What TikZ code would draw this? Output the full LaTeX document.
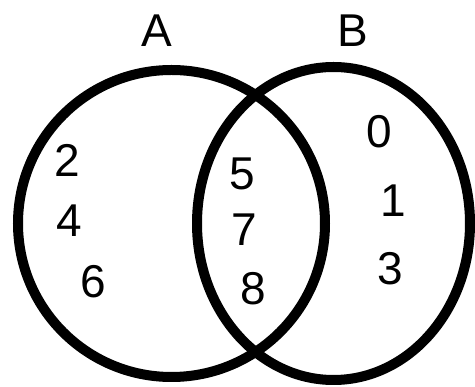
\documentclass[tikz,border=0pt]{standalone}
\usepackage{fontspec}
\setmainfont{Liberation Sans}
\begin{document}
\begin{tikzpicture}[x=1pt,y=-1pt,
  ring/.style={draw=black,line width=10pt},
  lbl/.style={inner sep=0pt,anchor=base,font=\fontsize{46}{46}\selectfont}]
\useasboundingbox (0,0) rectangle (475,387);
\draw[ring] (171.5,223.5) circle [radius=153.5];
\draw[ring] (333.5,223.5) ellipse [x radius=136.5,y radius=156.5];
\node[lbl] (A) at (157,47) {A};
\node[lbl] (B) at (353,47) {B};
\node[lbl] (n2) at (67,177) {2};
\node[lbl] (n4) at (69,237) {4};
\node[lbl] (n6) at (93,298) {6};
\node[lbl] (n5) at (242,190) {5};
\node[lbl] (n7) at (244,246) {7};
\node[lbl] (n8) at (253,305) {8};
\node[lbl] (n0) at (379,148) {0};
\node[lbl] (n1) at (393,217) {1};
\node[lbl] (n3) at (390,285) {3};
\end{tikzpicture}
\end{document}
